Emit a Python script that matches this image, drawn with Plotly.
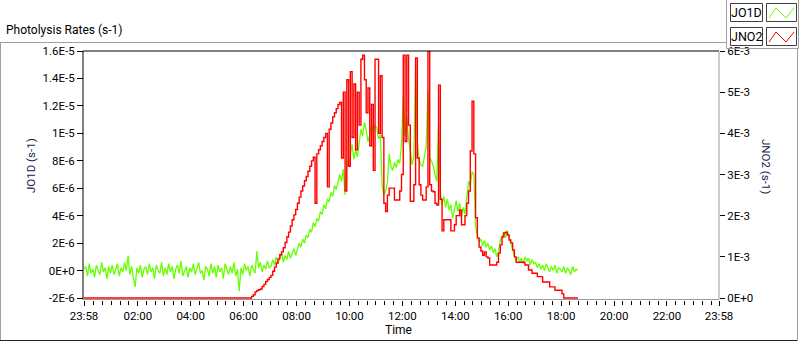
import pandas as pd
import numpy as np
import plotly.graph_objects as go

# ---------------- data ----------------
# sample grid: every 4 minutes starting at 23:58
start_time = "2024-01-01 23:58"
step_minutes = 4

# JO1D values in units of 1E-6 s-1 (one row per hour of the day)
jo1d_e6 = [0.1,
    0.3, -0.4, 0.5, -0.2, 0.1, -0.5, 0.4, 0.0, -0.3, 0.6, -0.1, 0.2, -0.6, 0.3, -0.2,
    0.4, -0.3, 0.1, 0.5, -0.4, 0.2, -0.1, 0.6, 0.0, 1.1, -0.3, 0.3, -0.5, -1.2, 0.2,
    -0.2, 0.4, -0.5, 0.1, 0.3, -0.3, 0.5, -0.1, 0.2, -0.6, 0.4, 0.0, -0.2, 0.6, -0.4,
    0.2, -0.3, 0.5, -0.1, 0.3, -0.6, 0.1, 0.4, -0.2, 0.7, -0.4, 0.0, 0.3, -0.5, 0.2,
    -0.1, 0.5, -0.3, 0.2, 0.6, -0.2, 0.0, -0.7, 0.3, 0.1, -0.4, 0.5, -0.2, 0.3, -0.5,
    0.4, -0.1, 0.2, -0.6, 0.5, 0.0, -0.3, 0.3, -0.2, 0.6, -0.4, 0.1, -1.5, 0.2, -0.3,
    0.5, 0.0, 0.3, -0.4, 0.4, 0.1, -0.2, 1.4, 0.2, 0.6, -0.1, 0.4, 0.1, 0.7, 0.2,
    0.3, 0.8, 0.4, 1.0, 0.5, 0.9, 1.3, 0.6, 1.1, 0.8, 1.4, 0.9, 1.2, 1.6, 1.1,
    1.5, 2.0, 1.7, 2.3, 2.0, 2.6, 2.4, 3.0, 2.8, 3.5, 3.2, 3.8, 3.6, 4.3, 4.1,
    4.8, 4.5, 5.2, 5.0, 5.7, 5.4, 6.2, 5.9, 6.6, 7.0, 6.5, 7.4, 5.5, 8.0, 7.6,
    8.6, 9.2, 8.1, 8.8, 8.3, 9.5, 10.3, 9.8, 10.8, 10.2, 9.4, 9.9, 10.7, 10.0, 10.6,
    10.4, 9.6, 9.9, 6.2, 5.5, 5.8, 6.4, 8.5, 7.6, 7.3, 7.9, 7.5, 8.1, 7.8, 9.2,
    12.8, 9.8, 11.2, 9.5, 8.8, 7.7, 8.3, 15.0, 9.3, 8.0, 7.7, 7.6, 8.4, 9.0, 13.1,
    8.2, 8.0, 7.6, 7.0, 6.5, 10.6, 5.8, 4.8, 5.4, 4.6, 5.2, 4.4, 4.8, 3.8, 4.5,
    5.1, 4.3, 4.9, 3.9, 4.6, 4.1, 5.2, 6.5, 6.2, 7.2, 7.0, 3.3, 2.5, 2.1, 2.3,
    1.8, 2.2, 1.7, 2.0, 1.5, 1.8, 1.3, 1.6, 1.0, 1.4, 2.2, 2.5, 2.8, 2.4, 2.9,
    2.4, 1.9, 1.4, 1.1, 0.7, 1.0, 0.6, 0.9, 0.5, 1.0, 0.7, 0.9, 0.4, 0.8, 0.5,
    0.6, 0.2, 0.5, 0.1, 0.4, 0.0, 0.5, 0.2, -0.1, 0.3, 0.0, 0.4, -0.2, 0.2, 0.1,
    -0.1, 0.3, -0.2, 0.2, 0.0, -0.3, 0.3, -0.1, 0.1, 0.0,
]

# JNO2 values in units of 1E-3 s-1: first sample (23:58), then from 06:02 on
jno2_first_e3 = 0.0
jno2_day_start_index = 91
jno2_e3 = [
    0, 0, 0, 0, 0.04, 0.08, 0.15, 0.18, 0.2, 0.22, 0.28, 0.33, 0.4, 0.45, 0.5,
    0.55, 0.65, 0.75, 0.85, 0.95, 1.05, 1.12, 1.22, 1.35, 1.48, 1.6, 1.75, 1.9, 2.02, 2.15,
    2.3, 2.45, 2.6, 2.72, 2.85, 2.95, 3.08, 3.2, 3.33, 3.42, 2.3, 3.5, 3.6, 3.7, 3.8,
    3.9, 4.0, 2.7, 4.1, 4.25, 4.4, 4.5, 4.6, 4.7, 4.75, 3.4, 5.0, 2.6, 5.3, 3.2,
    5.5, 3.9, 5.2, 3.6, 5.0, 4.2, 5.8, 5.9, 5.3, 4.5, 5.1, 3.7, 4.7, 3.1, 5.8,
    5.8, 4.0, 5.4, 3.9, 2.3, 2.1, 2.5, 2.67, 2.67, 2.67, 2.38, 2.38, 2.38, 2.6, 3.0,
    5.9, 3.8, 5.9, 4.2, 2.35, 2.35, 2.75, 5.83, 3.4, 2.75, 2.5, 2.38, 2.38, 2.7, 6.0,
    2.75, 2.6, 2.58, 2.3, 2.26, 5.17, 2.4, 1.63, 1.9, 1.9, 1.9, 1.9, 1.63, 1.63, 1.78,
    2.0, 2.0, 2.14, 1.78, 1.78, 2.0, 2.3, 2.6, 3.57, 4.78, 3.5, 1.95, 1.46, 1.24, 1.14,
    1.04, 1.12, 1.0, 0.97, 0.8, 0.8, 0.8, 0.8, 0.87, 1.09, 1.29, 1.48, 1.58, 1.6, 1.53,
    1.41, 1.34, 1.17, 1.0, 0.87, 0.87, 0.87, 0.87, 0.87, 0.8, 0.8, 0.68, 0.68, 0.6, 0.6,
    0.6, 0.52, 0.52, 0.52, 0.39, 0.39, 0.39, 0.39, 0.27, 0.27, 0.27, 0.19, 0.19, 0.19, 0.19,
    0.1, 0, 0, 0, 0, 0, 0, 0, 0, 0,
]

x_range = ["2024-01-01 23:58", "2024-01-02 23:58"]
x_tickvals = ["2024-01-01 23:58", "2024-01-02 02:00", "2024-01-02 04:00", "2024-01-02 06:00",
              "2024-01-02 08:00", "2024-01-02 10:00", "2024-01-02 12:00", "2024-01-02 14:00",
              "2024-01-02 16:00", "2024-01-02 18:00", "2024-01-02 20:00", "2024-01-02 22:00",
              "2024-01-02 23:58"]
x_ticktext = ["23:58", "02:00", "04:00", "06:00", "08:00", "10:00", "12:00", "14:00",
              "16:00", "18:00", "20:00", "22:00", "23:58"]

y1_tickvals = [1.6e-5, 1.4e-5, 1.2e-5, 1e-5, 8e-6, 6e-6, 4e-6, 2e-6, 0, -2e-6]
y1_ticktext = ["1.6E-5", "1.4E-5", "1.2E-5", "1E-5", "8E-6", "6E-6", "4E-6", "2E-6", "0E+0", "-2E-6"]
y2_tickvals = [6e-3, 5e-3, 4e-3, 3e-3, 2e-3, 1e-3, 0]
y2_ticktext = ["6E-3", "5E-3", "4E-3", "3E-3", "2E-3", "1E-3", "0E+0"]

# ---------------- build ----------------
t0 = pd.Timestamp(start_time)
times = [t0 + pd.Timedelta(minutes=step_minutes * i) for i in range(len(jo1d_e6))]
jo1d = [v * 1e-6 for v in jo1d_e6]
jno2_times = [times[0]] + times[jno2_day_start_index:jno2_day_start_index + len(jno2_e3)]
jno2 = [jno2_first_e3 * 1e-3] + [v * 1e-3 for v in jno2_e3]

GREEN = "#66ff00"
RED = "#ff0000"
FONT = "Roboto"

W, H = 800, 342
# pixel geometry: top tick at y=51, bottom tick at y=298, plot box bottom at 300
L, R, T, B = 84, 719, 51, 300
Y_TOP_TICK, Y_BOT_TICK = 51, 298
y1_lo = -2e-6 - (B - Y_BOT_TICK) * (18e-6 / (Y_BOT_TICK - Y_TOP_TICK))
y2_lo = 0 - (B - Y_BOT_TICK) * (6e-3 / (Y_BOT_TICK - Y_TOP_TICK))


def px(x):
    return (x - L) / (R - L)


def py(y):
    return (B - y) / (B - T)


fig = go.Figure()
fig.add_trace(go.Scatter(x=times, y=jo1d, mode="lines", name="JO1D",
                         line=dict(color=GREEN, width=1.3), yaxis="y"))
fig.add_trace(go.Scatter(x=jno2_times, y=jno2, mode="lines", name="JNO2",
                         line=dict(color=RED, width=1.4, shape="hv"), yaxis="y2"))

tickfont = dict(family=FONT, size=11.5, color="#000")
fig.update_layout(
    width=W, height=H,
    margin=dict(l=L, r=W - R, t=T, b=H - B, pad=0),
    paper_bgcolor="white", plot_bgcolor="white",
    showlegend=False,
    font=dict(family=FONT, size=12, color="#000"),
    xaxis=dict(type="date", range=x_range, tickmode="array", tickvals=x_tickvals,
               ticktext=x_ticktext, ticks="outside", ticklen=5, tickwidth=1, tickcolor="#000",
               showgrid=False, zeroline=False, showline=False, tickfont=tickfont,
               minor=dict(ticks="outside", ticklen=4, tickwidth=1, tickcolor="#000",
                          dtick=20 * 60 * 1000, tick0="2024-01-02 00:00", showgrid=False)),
    yaxis=dict(range=[y1_lo, 1.6e-5], tickmode="array", tickvals=y1_tickvals,
               ticktext=y1_ticktext, ticks="outside", ticklen=6, tickcolor="#000",
               showgrid=False, zeroline=False, showline=False, tickfont=tickfont),
    yaxis2=dict(range=[y2_lo, 6e-3], overlaying="y", side="right", tickmode="array",
                tickvals=y2_tickvals, ticktext=y2_ticktext, ticks="outside", ticklen=5,
                tickcolor="#000", showgrid=False, zeroline=False, showline=False,
                tickfont=tickfont),
)

shapes = []


def line(x0, y0, x1, y1, color, width=1):
    shapes.append(dict(type="line", xref="paper", yref="paper",
                       x0=px(x0), y0=py(y0), x1=px(x1), y1=py(y1),
                       line=dict(color=color, width=width), layer="above"))


def rect(x0, y0, x1, y1, color, width=1):
    shapes.append(dict(type="rect", xref="paper", yref="paper",
                       x0=px(x0), y0=py(y0), x1=px(x1), y1=py(y1),
                       line=dict(color=color, width=width), fillcolor="rgba(0,0,0,0)",
                       layer="above"))


# outer chart frame
line(0, 42.5, 726, 42.5, "#a0a0a0")
line(0.5, 42.5, 0.5, 341, "#a0a0a0")
line(0, 340.5, 798, 340.5, "#202020")
line(797.5, 48, 797.5, 341, "#a0a0a0")
# legend panel
rect(726.5, -2, 798.5, 48.5, "#a0a0a0")
# plot area 3D border
line(L - 1, T, R, T, "#000")
line(L - 1, T, L - 1, 299.5, "#000")
line(R, T, R, 299.5, "#9a9a9a")
line(L - 1, 299.5, R, 299.5, "#9a9a9a")

# legend boxes
rect(730.5, 3.5, 762.5, 21.5, "#404040")
rect(766.5, 3.5, 796.5, 21.5, "#404040")
rect(730.5, 27.5, 762.5, 45.5, "#404040")
rect(766.5, 27.5, 796.5, 45.5, "#404040")


def zig(y_top, color):
    pts = [(769, y_top + 15), (776, y_top + 5), (786, y_top + 15), (794, y_top + 5)]
    path = "M " + " L ".join(f"{px(a)},{py(b)}" for a, b in pts)
    shapes.append(dict(type="path", xref="paper", yref="paper", path=path,
                       line=dict(color=color, width=1), layer="above"))


zig(3, GREEN)
zig(27, RED)

annotations = [
    dict(text="Photolysis Rates (s-1)", x=px(4), y=py(30), xanchor="left", yanchor="middle",
         font=dict(family=FONT, size=12, color="#000")),
    dict(text="JO1D (s-1)", x=px(31), y=py(166), textangle=-90, xanchor="center",
         yanchor="middle", font=dict(family=FONT, size=11.5, color="#1a1a50")),
    dict(text="JNO2 (s-1)", x=px(766), y=py(166), textangle=90, xanchor="center",
         yanchor="middle", font=dict(family=FONT, size=11.5, color="#1a1a50")),
    dict(text="Time", x=px(398), y=py(330), xanchor="center", yanchor="middle",
         font=dict(family=FONT, size=12, color="#000")),
    dict(text="JO1D", x=px(746.5), y=py(12.5), xanchor="center", yanchor="middle",
         font=dict(family=FONT, size=12.5, color="#000")),
    dict(text="JNO2", x=px(746.5), y=py(36.5), xanchor="center", yanchor="middle",
         font=dict(family=FONT, size=12.5, color="#000")),
]
for a in annotations:
    a.update(xref="paper", yref="paper", showarrow=False)

fig.update_layout(shapes=shapes, annotations=annotations)
fig.write_html("out.html",
               config={"displayModeBar": False, "staticPlot": True},
               post_script="document.body.style.margin='0px';document.body.style.padding='0px';")
